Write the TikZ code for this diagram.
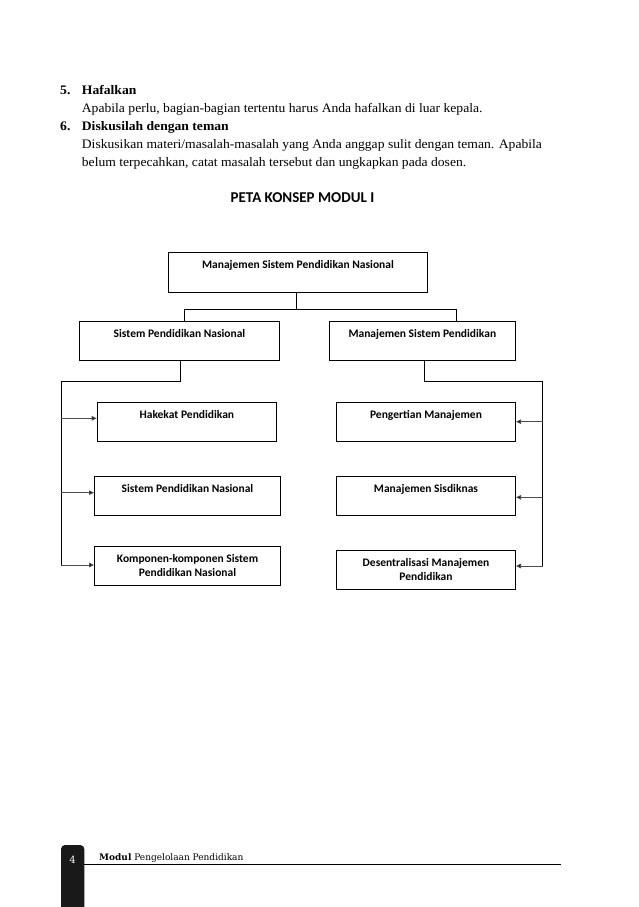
\documentclass[tikz,border=0pt]{standalone}
\usepackage{fontspec}
\setmainfont{Liberation Serif}
\newfontfamily\boxfont{Carlito}
\newfontfamily\footfont{DejaVu Serif}
\usetikzlibrary{arrows.meta}
\begin{document}
\begin{tikzpicture}[x=1pt,y=-1pt,
  box/.style={draw,line width=1pt,inner sep=0pt,anchor=north west},
  conn/.style={line width=0.9pt},
  arr/.style={line width=0.9pt,draw=black!70,-{Triangle[length=5pt,width=4.5pt,fill=black]}},
  body/.style={anchor=base west,inner sep=0pt,font=\fontsize{13}{15}\selectfont}]
\useasboundingbox (0,0) rectangle (638,907);
\fill[white] (0,0) rectangle (638,907);
% body text
\newcommand{\widetxt}[1]{\scalebox{1.048}[1]{#1}}
\node[body] (n5) at (60,94) {\widetxt{\textbf{5.}}};
\node[body] (t5) at (81.7,94) {\widetxt{\textbf{Hafalkan}}};
\node[body] (l1) at (81.7,112) {\widetxt{Apabila perlu, bagian-bagian tertentu harus Anda hafalkan di luar kepala.}};
\node[body] (n6) at (60,130) {\widetxt{\textbf{6.}}};
\node[body] (t6) at (81.7,130) {\widetxt{\textbf{Diskusilah dengan teman}}};
\node[body] (l2) at (81.7,148) {\widetxt{Diskusikan materi/masalah-masalah yang Anda anggap sulit dengan teman. Apabila}};
\node[body] (l3) at (81.7,166) {\widetxt{belum terpecahkan, catat masalah tersebut dan ungkapkan pada dosen.}};
\node[font=\boxfont\bfseries\fontsize{15}{17}\selectfont,anchor=base,inner sep=0pt] (title) at (302.5,202) {PETA KONSEP MODUL I};
% boxes
\newcommand{\bx}[3]{\parbox[c][#2pt][t]{#1pt}{\centering\boxfont\bfseries\fontsize{11.5}{14.2}\selectfont\vspace{8pt}#3\par}}
\node[box] (root) at (168.3,251.7) {\bx{258.4}{40.6}{Manajemen Sistem Pendidikan Nasional}};
\node[box] (L) at (78.7,320.7) {\bx{200.6}{39.3}{Sistem Pendidikan Nasional}};
\node[box] (R) at (328.7,320.7) {\bx{186.3}{39.3}{Manajemen Sistem Pendidikan}};
\node[box] (L1) at (96.7,401.7) {\bx{179.3}{39.3}{Hakekat Pendidikan}};
\node[box] (L2) at (94,475.7) {\bx{186}{39.3}{Sistem Pendidikan Nasional}};
\node[box] (L3) at (94,545.7) {\bx{186}{39.3}{Komponen-komponen Sistem\\Pendidikan Nasional}};
\node[box] (R1) at (336,401.7) {\bx{179}{39.3}{Pengertian Manajemen}};
\node[box] (R2) at (336,475.7) {\bx{179}{39.3}{Manajemen Sisdiknas}};
\node[box] (R3) at (336,550) {\bx{179}{39.3}{Desentralisasi Manajemen\\Pendidikan}};
% connectors
\coordinate (j) at (296,309.3);
\draw[conn] (root.south -| j) -- (j);
\draw[conn] (L.north -| 184.3,0) |- (j) -| (R.north -| 456.7,0);
\coordinate (lc) at (61,381);
\coordinate (rc) at (542.7,381);
\draw[conn] (L.south -| 180,0) |- (lc) -- (61,565);
\draw[conn] (R.south -| 424,0) |- (rc) -- (542.7,566);
\draw[arr] (61,418.3) -- (L1.west |- 0,418.3);
\draw[arr] (61,492.7) -- (L2.west |- 0,492.7);
\draw[arr] (61,565) -- (L3.west |- 0,565);
\draw[arr] (542.7,421.7) -- (R1.east |- 0,421.7);
\draw[arr] (542.7,497.3) -- (R2.east |- 0,497.3);
\draw[arr] (542.7,566) -- (R3.east |- 0,566);
% footer
\fill[black!90,rounded corners=4pt] (61,920) -- (61,845) -- (84.3,845) -- (84.3,920) -- cycle;
\node[text=white,font=\footfont\fontsize{10}{12}\selectfont,inner sep=0pt] (pg) at (72.5,860) {4};
\draw[line width=1pt] (84.3,864.3) -- (561,864.3);
\node[anchor=base west,inner sep=0pt,font=\footfont\fontsize{9}{11}\selectfont] (ft) at (99,860) {\textbf{Modul} Pengelolaan Pendidikan};
\end{tikzpicture}
\end{document}
